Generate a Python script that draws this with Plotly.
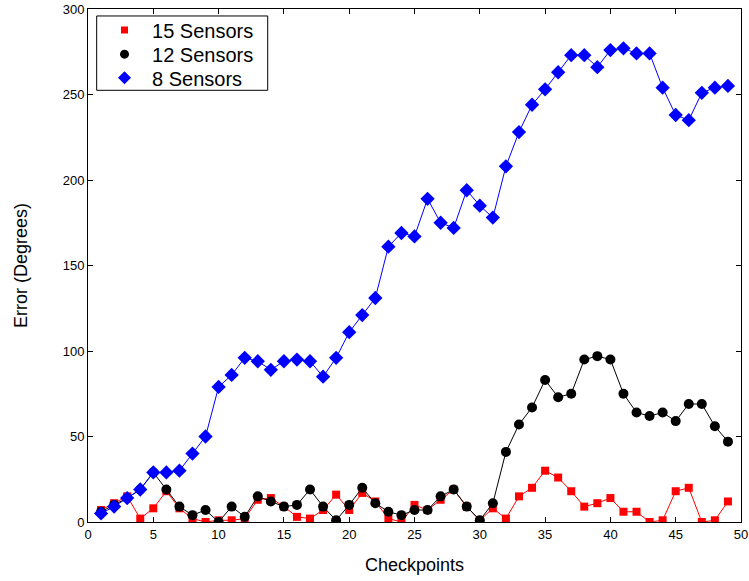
import plotly.graph_objects as go

checkpoints = list(range(1, 50))
s15 = [7, 11, 15, 2, 8, 18, 8, 2, 0, 1, 1, 2, 13, 14, 9, 3, 2, 7, 16, 7, 17, 12, 2, 0, 10, 7, 13, 19, 9, 1,
       8, 2, 15, 20, 30, 26, 18, 9, 11, 14, 6, 6, 0, 1, 18, 20, 0, 1, 12]
s12 = [6, 10, 14, 19, 29, 19, 9, 4, 7, 0, 9, 3, 15, 12, 9, 10, 19, 9, 1, 10, 20, 11, 6, 4, 7, 7, 15, 19, 9, 1,
       11, 41, 57, 67, 83, 73, 75, 95, 97, 95, 75, 64, 62, 64, 59, 69, 69, 56, 47]
s8 = [5, 9, 14, 19, 29, 29, 30, 40, 50, 79, 86, 96, 94, 89, 94, 95, 94, 85, 96, 111, 121, 131, 161, 169, 167,
      189, 175, 172, 194, 185, 178, 208, 228, 244, 253, 263, 273, 273, 266, 276, 277, 274, 274, 254, 238, 235,
      251, 254, 255]
names = ["15 Sensors", "12 Sensors", "8 Sensors"]
xticks = [0, 5, 10, 15, 20, 25, 30, 35, 40, 45, 50]
yticks = [0, 50, 100, 150, 200, 250, 300]

FONT = "Liberation Sans, Arial"
fig = go.Figure()
styles = [
    (s15, "#ff0000", "square", 8),
    (s12, "#000000", "circle", 10),
    (s8, "#0000ff", "diamond", 11),
]
legend_ids = ["legend", "legend2", "legend3"]
legend_y = [0.959, 0.912, 0.866]

for (vals, col, sym, sz), nm in zip(styles, names):
    fig.add_trace(go.Scatter(x=checkpoints, y=vals, mode="lines+markers", name=nm, showlegend=False,
                             line=dict(color=col, width=1),
                             marker=dict(color=col, symbol=sym, size=sz, line=dict(width=0))))
for (vals, col, sym, sz), nm, lid in zip(styles, names, legend_ids):
    fig.add_trace(go.Scatter(x=[None], y=[None], mode="markers", name=nm, legend=lid,
                             marker=dict(color=col, symbol=sym, size=sz - 1, line=dict(width=0))))

axis_common = dict(showgrid=False, zeroline=False, showline=True, linecolor="black", linewidth=1,
                   mirror="ticks", ticks="inside", ticklen=5, tickcolor="black", automargin=False,
                   tickfont=dict(family=FONT, size=13, color="black"))

legend_style = dict(x=0.0138, xanchor="left", yanchor="middle", borderwidth=0, bgcolor="rgba(0,0,0,0)",
                    font=dict(family=FONT, size=20, color="black"), itemwidth=45)

fig.update_layout(
    width=749, height=581,
    margin=dict(l=88, r=8, t=9, b=59),
    paper_bgcolor="white", plot_bgcolor="white",
    xaxis=dict(range=[0, 50], tickvals=xticks,
               title=dict(text="Checkpoints", font=dict(family=FONT, size=18, color="black"),
                          standoff=17),
               **axis_common),
    yaxis=dict(range=[0, 300], tickvals=yticks,
               title=dict(text="Error (Degrees)", font=dict(family=FONT, size=18, color="black"),
                          standoff=30),
               **axis_common),
    legend=dict(y=legend_y[0], **legend_style),
    legend2=dict(y=legend_y[1], **legend_style),
    legend3=dict(y=legend_y[2], **legend_style),
    showlegend=True,
    shapes=[dict(type="rect", xref="paper", yref="paper", x0=0.0133, x1=0.2752, y0=0.8415, y1=0.9864,
                 line=dict(color="black", width=1), fillcolor="white", layer="below")],
)
fig.write_html("out.html")
